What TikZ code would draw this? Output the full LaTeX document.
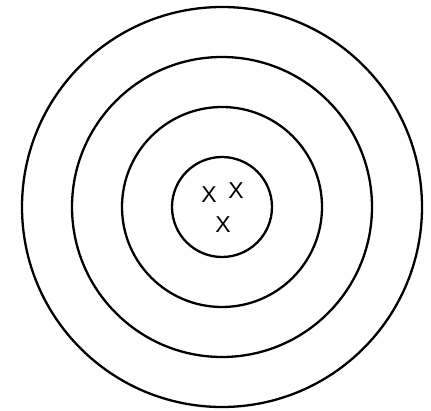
\documentclass[tikz,border=0pt]{standalone}
\usepackage{fontspec}
\setsansfont{Liberation Sans}
\usepackage{tikz}
\usetikzlibrary{positioning}

\tikzset{
  ring/.style={line width=2.3pt},
  mark x/.style={font=\sffamily\fontsize{23}{23}\selectfont, inner sep=0pt}
}

\begin{document}
\begin{tikzpicture}[x=1pt,y=-1pt]
    \useasboundingbox (0,0) rectangle (431,411);
    \coordinate (c) at (222,207);
    \foreach \r in {50,100,150,200} {
      \draw[ring] (c) circle (\r);
    }
    \node[mark x] (x1) at (209,195) {X};
    \node[mark x] (x2) at (236,191) {X};
    \node[mark x] (x3) at (223,225) {X};
  \end{tikzpicture}
\end{document}
